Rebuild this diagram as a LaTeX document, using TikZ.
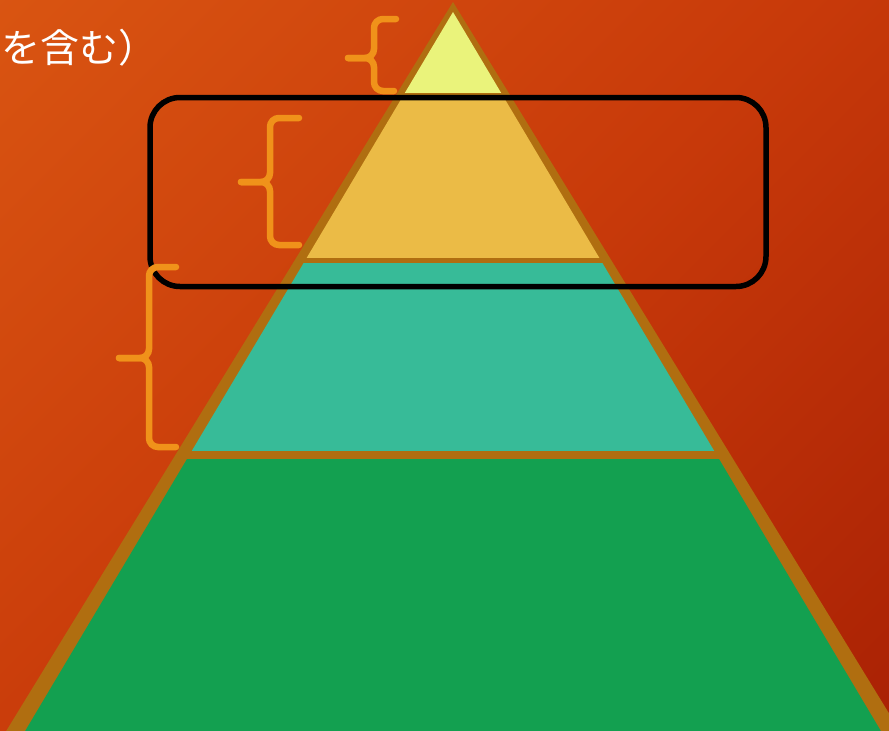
\documentclass[tikz,border=0pt]{standalone}
\usepackage{fontspec}
\newfontfamily\jpfont{Noto Sans CJK JP}

\definecolor{bgtop}{HTML}{DA5612}
\definecolor{bgmid}{HTML}{C83A0A}
\definecolor{bgbottom}{HTML}{A82004}
\definecolor{edgebrown}{HTML}{B06E10}
\definecolor{tipyellow}{HTML}{EAF37B}
\definecolor{layergold}{HTML}{EBBB46}
\definecolor{layerteal}{HTML}{37BB98}
\definecolor{layergreen}{HTML}{13A050}
\definecolor{braceorange}{HTML}{F0921A}

\tikzset{
    bracestroke/.style={braceorange, line width=6.5pt, line cap=round, rounded corners=9pt},
    framebox/.style={black, line width=5.5pt, rounded corners=30pt},
    captiontext/.style={white, inner sep=0pt, font=\jpfont\fontsize{39}{46}\selectfont}
}

\begin{document}
\begin{tikzpicture}[x=1pt, y=-1pt]

    % Canvas
    \useasboundingbox (0,0) rectangle (889,731);
    \clip (0,0) rectangle (889,731);
    \shade[top color=bgtop, bottom color=bgbottom, middle color=bgmid, shading angle=45]
        (-200,-200) rectangle (1089,931);

    % Pyramid outline
    \fill[edgebrown] (453,2) -- (-30,790) -- (936,790) -- cycle;

    % Layers (inside the outline)
    \begin{scope}
        \clip (453,12) -- (-10,790) -- (916,790) -- cycle;
        \fill[tipyellow]   (0,0)   rectangle (889,93);
        \fill[layergold]   (0,97)  rectangle (889,258);
        \fill[layerteal]   (0,263) rectangle (889,451);
        \fill[layergreen]  (0,459) rectangle (889,800);
    \end{scope}

    % Highlight frame
    \draw[framebox] (150,97.5) rectangle (766,286.5);

    % Braces
    \draw[bracestroke] (396,19) -- (374,19) -- (374,58) -- (348,58);
    \draw[bracestroke] (394,91) -- (374,91) -- (374,58) -- (348,58);

    \draw[bracestroke] (299,118) -- (270,118) -- (270,182) -- (241,182);
    \draw[bracestroke] (299,245) -- (270,245) -- (270,182) -- (241,182);

    \draw[bracestroke] (176,267) -- (149,267) -- (149,358) -- (119,358);
    \draw[bracestroke] (176,447) -- (149,447) -- (149,358) -- (119,358);

    % Caption
    \node[captiontext, anchor=base west] (caption) at (1,62) {を含む）};

\end{tikzpicture}
\end{document}
